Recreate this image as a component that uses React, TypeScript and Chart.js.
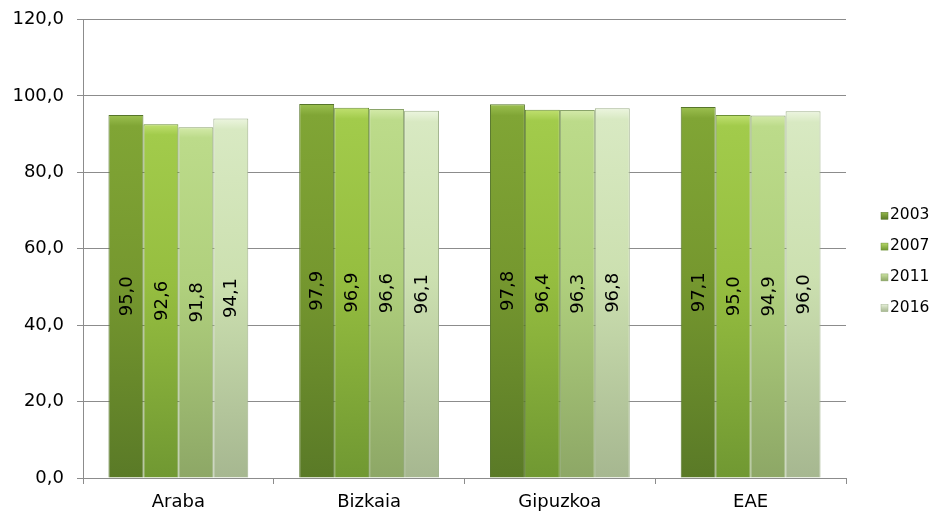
import React, { useEffect, useRef } from "react";
import { Chart, registerables } from "chart.js";

Chart.register(...registerables);

const categories = ["Araba", "Bizkaia", "Gipuzkoa", "EAE"];
const seriesLabels = ["2003", "2007", "2011", "2016"];
const values2003 = [95.0, 97.9, 97.8, 97.1];
const values2007 = [92.6, 96.9, 96.4, 95.0];
const values2011 = [91.8, 96.6, 96.3, 94.9];
const values2016 = [94.1, 96.1, 96.8, 96.0];
const yMin = 0;
const yMax = 120;
const yStep = 20;

const palettes = [
  { rim: "#9cc050", top: "#80a535", mid: "#76982f", bottom: "#5a7a27", border: "#56752a" },
  { rim: "#c0e070", top: "#a2cb4b", mid: "#96be40", bottom: "#709832", border: "#6b8f34" },
  { rim: "#d4eaaa", top: "#bcdb8a", mid: "#b0d07d", bottom: "#8da766", border: "#8aa46a" },
  { rim: "#ecf5df", top: "#d8e9c2", mid: "#cce0b0", bottom: "#a6b790", border: "#a0b28c" },
];

const fmt = (v: number) => v.toFixed(1).replace(".", ",");
const FONT = "'DejaVu Sans', Verdana, sans-serif";

const valueLabelPlugin = {
  id: "valueLabels",
  afterDatasetsDraw(chart: any) {
    const ctx = chart.ctx;
    ctx.save();
    ctx.font = `18px ${FONT}`;
    ctx.fillStyle = "#000";
    ctx.textAlign = "center";
    ctx.textBaseline = "middle";
    chart.data.datasets.forEach((ds: any, di: number) => {
      const meta = chart.getDatasetMeta(di);
      meta.data.forEach((el: any, i: number) => {
        const x = el.x;
        const y = (el.y + el.base) / 2;
        ctx.save();
        ctx.translate(x, y);
        ctx.rotate(-Math.PI / 2);
        ctx.fillText(fmt(ds.data[i]), 0, 1);
        ctx.restore();
      });
    });
    ctx.restore();
  },
};

const legendPlugin = {
  id: "sideLegend",
  afterDraw(chart: any) {
    const ctx = chart.ctx;
    ctx.save();
    ctx.font = `15.5px ${FONT}`;
    ctx.textAlign = "left";
    ctx.textBaseline = "middle";
    const x0 = chart.chartArea.right + 35;
    const yc = 261.5;
    const gap = 30.8;
    const n = chart.data.datasets.length;
    chart.data.datasets.forEach((ds: any, i: number) => {
      const y = yc + (i - (n - 1) / 2) * gap;
      const p = palettes[i];
      const g = ctx.createLinearGradient(0, y - 4, 0, y + 4);
      g.addColorStop(0, p.rim);
      g.addColorStop(1, p.bottom);
      ctx.fillStyle = g;
      ctx.fillRect(x0, y - 3, 7, 7);
      ctx.strokeStyle = p.border;
      ctx.lineWidth = 0.5;
      ctx.strokeRect(x0, y - 3, 7, 7);
      ctx.fillStyle = "#000";
      ctx.fillText(ds.label, x0 + 9, y);
    });
    ctx.restore();
  },
};

function barGradient(i: number) {
  return (c: any) => {
    const chart = c.chart;
    const p = palettes[i];
    if (!chart.chartArea || c.raw === undefined) return p.mid;
    const yScale = chart.scales.y;
    const top = yScale.getPixelForValue(c.raw);
    const base = yScale.getPixelForValue(0);
    const g = chart.ctx.createLinearGradient(0, top, 0, base);
    g.addColorStop(0, p.rim);
    g.addColorStop(0.03, p.top);
    g.addColorStop(0.45, p.mid);
    g.addColorStop(1, p.bottom);
    return g;
  };
}

export default function App() {
  const ref = useRef<HTMLCanvasElement | null>(null);

  useEffect(() => {
    if (!ref.current) return;
    Chart.defaults.font.family = FONT;
    Chart.defaults.color = "#000";
    const seriesValues = [values2003, values2007, values2011, values2016];
    const chart = new Chart(ref.current, {
      type: "bar",
      data: {
        labels: categories,
        datasets: seriesLabels.map((label, i) => ({
          label,
          data: seriesValues[i],
          backgroundColor: barGradient(i),
          borderColor: palettes[i].border,
          borderWidth: 1,
          categoryPercentage: 0.733,
          barPercentage: 1.0,
        })),
      },
      options: {
        responsive: false,
        animation: false,
        layout: { padding: { top: 19.5, right: 87, bottom: 0, left: 0 } },
        plugins: {
          legend: { display: false },
          tooltip: { enabled: false },
        },
        scales: {
          x: {
            grid: {
              display: true,
              drawOnChartArea: false,
              drawTicks: true,
              offset: true,
              tickLength: 6,
              color: "#8c8c8c",
            },
            border: { color: "#8c8c8c" },
            ticks: { font: { size: 18, family: FONT }, color: "#000", padding: 8 },
            afterFit: (s: any) => {
              s.height = 38;
              s.paddingLeft = 0;
              s.paddingRight = 0;
            },
          },
          y: {
            min: yMin,
            max: yMax,
            ticks: {
              stepSize: yStep,
              font: { size: 18, family: FONT },
              color: "#000",
              padding: 13,
              callback: (v: any) => fmt(Number(v)),
            },
            grid: { color: "#8c8c8c", tickLength: 6 },
            border: { color: "#8c8c8c" },
            afterFit: (s: any) => {
              s.width = 83;
              s.paddingTop = 0;
              s.paddingBottom = 0;
            },
          },
        },
      },
      plugins: [valueLabelPlugin, legendPlugin],
    });
    return () => chart.destroy();
  }, []);

  return (
    <div style={{ position: "absolute", left: 0, top: 0, width: 933, height: 516, background: "#fff" }}>
      <canvas ref={ref} width={933} height={516} style={{ display: "block" }} />
    </div>
  );
}
